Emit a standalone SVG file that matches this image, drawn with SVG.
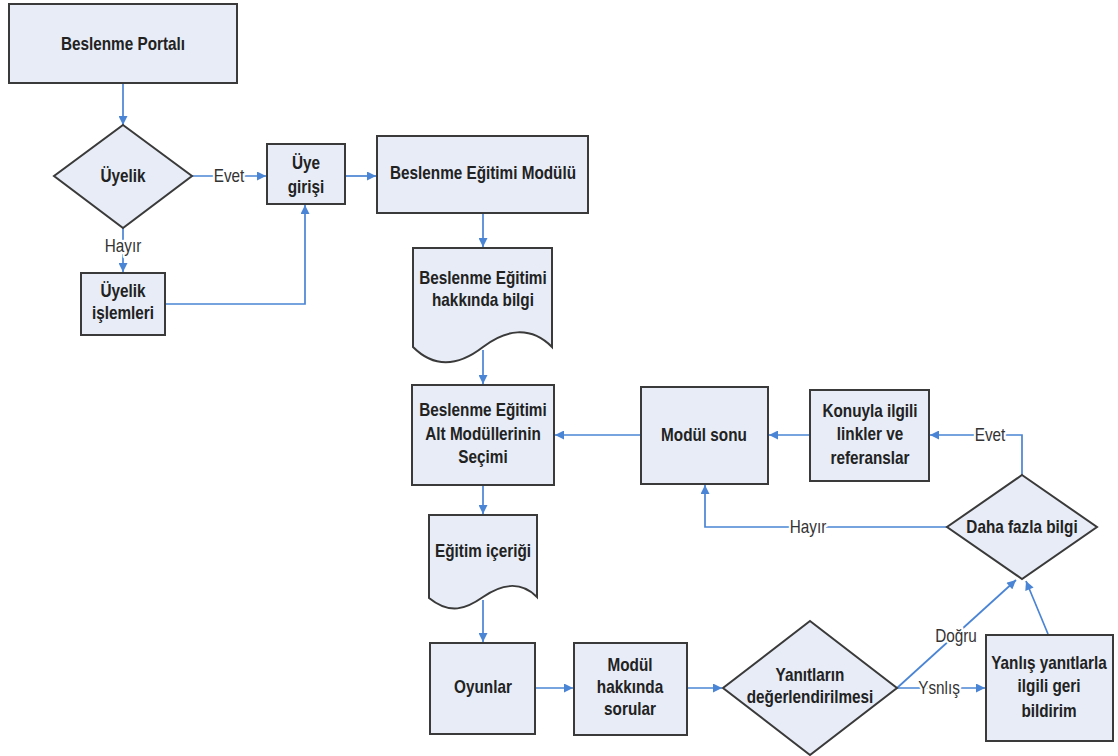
<svg xmlns="http://www.w3.org/2000/svg" width="1118" height="756" viewBox="0 0 1118 756">
<style>
.n{fill:#e7ecf6;stroke:#3a3a3a;stroke-width:2}
.t{font-family:"Liberation Sans",Arial,sans-serif;font-weight:bold;font-size:18px;fill:#222;text-anchor:middle}
.c{fill:none;stroke:#4a84d4;stroke-width:1.7}
.l{font-family:"Liberation Sans",Arial,sans-serif;font-size:18px;fill:#333;text-anchor:middle;stroke:#fff;stroke-width:5;paint-order:stroke;stroke-linejoin:round}
</style>
<defs>
<marker id="ah" viewBox="0 0 10 10" refX="10" refY="5" markerWidth="10" markerHeight="9" markerUnits="userSpaceOnUse" orient="auto">
<path d="M0,0 L10,5 L0,10 Z" fill="#4a84d4"/>
</marker>
</defs>
<rect width="1118" height="756" fill="#fff"/>
<g id="connectors">
<path class="c" marker-end="url(#ah)" d="M123,83 V125"/>
<path class="c" marker-end="url(#ah)" d="M192,176 H266"/>
<path class="c" marker-end="url(#ah)" d="M123,228 V272"/>
<path class="c" marker-end="url(#ah)" d="M165,304 H305 V205"/>
<path class="c" marker-end="url(#ah)" d="M345,176 H376"/>
<path class="c" marker-end="url(#ah)" d="M483,213 V247"/>
<path class="c" marker-end="url(#ah)" d="M483,350 V384"/>
<path class="c" marker-end="url(#ah)" d="M483,485 V514"/>
<path class="c" marker-end="url(#ah)" d="M483,600 V642"/>
<path class="c" marker-end="url(#ah)" d="M535,688 H573"/>
<path class="c" marker-end="url(#ah)" d="M687,688 H722"/>
<path class="c" marker-end="url(#ah)" d="M897,688 H985"/>
<path class="c" marker-end="url(#ah)" d="M897,688 L1016,580"/>
<path class="c" marker-end="url(#ah)" d="M1048,634 L1026,581"/>
<path class="c" marker-end="url(#ah)" d="M1022,475 V435 H930"/>
<path class="c" marker-end="url(#ah)" d="M810,435 H769"/>
<path class="c" marker-end="url(#ah)" d="M947,527 H705 V485"/>
<path class="c" marker-end="url(#ah)" d="M641,435 H555"/>
<text class="l" transform="translate(229,182) scale(0.85 1)">Evet</text>
<text class="l" transform="translate(123,252) scale(0.85 1)">Hayır</text>
<text class="l" transform="translate(939,694) scale(0.85 1)">Ysnlış</text>
<text class="l" transform="translate(956,642) scale(0.85 1)">Doğru</text>
<text class="l" transform="translate(990,441) scale(0.85 1)">Evet</text>
<text class="l" transform="translate(808,533) scale(0.85 1)">Hayır</text>
</g>
<g id="portal"><rect class="n" x="9" y="4" width="228" height="79"/>
<text class="t" transform="translate(123,50) scale(0.85 1)">Beslenme Portalı</text></g>
<g id="uyelik"><path class="n" d="M123,125 L192,176 L123,228 L54,176 Z"/>
<text class="t" transform="translate(123,182) scale(0.85 1)">Üyelik</text></g>
<g id="uye-girisi"><rect class="n" x="267" y="144" width="78" height="60"/>
<text class="t" transform="translate(306,169) scale(0.85 1)">Üye</text>
<text class="t" transform="translate(306,193) scale(0.85 1)">girişi</text></g>
<g id="uyelik-islemleri"><rect class="n" x="81" y="273" width="84" height="62"/>
<text class="t" transform="translate(123,297) scale(0.85 1)">Üyelik</text>
<text class="t" transform="translate(123,319) scale(0.85 1)">işlemleri</text></g>
<g id="egitim-modulu"><rect class="n" x="377" y="136" width="211" height="77"/>
<text class="t" transform="translate(483,179) scale(0.85 1)">Beslenme Eğitimi Modülü</text></g>
<g id="egitim-bilgi"><path class="n" d="M413,248 H552 V347 C530,325 505,330 483,347 S436,370 413,347 Z"/>
<text class="t" transform="translate(483,284) scale(0.85 1)">Beslenme Eğitimi</text>
<text class="t" transform="translate(483,306) scale(0.85 1)">hakkında bilgi</text></g>
<g id="alt-moduller"><rect class="n" x="412" y="385" width="142" height="100"/>
<text class="t" transform="translate(483,416) scale(0.85 1)">Beslenme Eğitimi</text>
<text class="t" transform="translate(483,440) scale(0.85 1)">Alt Modüllerinin</text>
<text class="t" transform="translate(483,463) scale(0.85 1)">Seçimi</text></g>
<g id="egitim-icerigi"><path class="n" d="M429,515 H537 V597 C520,580 500,585 483,597 S450,615 429,598 Z"/>
<text class="t" transform="translate(483,557) scale(0.85 1)">Eğitim içeriği</text></g>
<g id="oyunlar"><rect class="n" x="430" y="643" width="105" height="91"/>
<text class="t" transform="translate(483,693) scale(0.85 1)">Oyunlar</text></g>
<g id="sorular"><rect class="n" x="574" y="643" width="113" height="92"/>
<text class="t" transform="translate(630,671) scale(0.85 1)">Modül</text>
<text class="t" transform="translate(630,693) scale(0.85 1)">hakkında</text>
<text class="t" transform="translate(630,715) scale(0.85 1)">sorular</text></g>
<g id="yanitlar"><path class="n" d="M810,621 L897,688 L810,755 L723,688 Z"/>
<text class="t" transform="translate(810,681) scale(0.85 1)">Yanıtların</text>
<text class="t" transform="translate(810,703) scale(0.85 1)">değerlendirilmesi</text></g>
<g id="geri-bildirim"><rect class="n" x="986" y="635" width="127" height="106"/>
<text class="t" transform="translate(1049,669) scale(0.85 1)">Yanlış yanıtlarla</text>
<text class="t" transform="translate(1049,692) scale(0.85 1)">ilgili geri</text>
<text class="t" transform="translate(1049,717) scale(0.85 1)">bildirim</text></g>
<g id="daha-fazla"><path class="n" d="M1022,475 L1097,527 L1022,579 L947,527 Z"/>
<text class="t" transform="translate(1022,533) scale(0.85 1)">Daha fazla bilgi</text></g>
<g id="konuyla"><rect class="n" x="810" y="390" width="119" height="91"/>
<text class="t" transform="translate(870,417) scale(0.85 1)">Konuyla ilgili</text>
<text class="t" transform="translate(870,440) scale(0.85 1)">linkler ve</text>
<text class="t" transform="translate(870,464) scale(0.85 1)">referanslar</text></g>
<g id="modul-sonu"><rect class="n" x="641" y="387" width="127" height="97"/>
<text class="t" transform="translate(704,441) scale(0.85 1)">Modül sonu</text></g>
</svg>
